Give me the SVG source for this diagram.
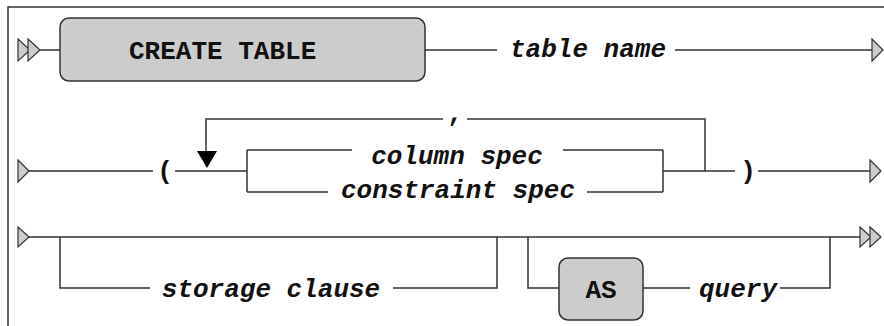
<svg xmlns="http://www.w3.org/2000/svg" width="884" height="326" viewBox="0 0 884 326">
<style>
.ln{fill:none;stroke:#333;stroke-width:1.5}
.ar{fill:#ccc;stroke:#333;stroke-width:1.2;stroke-linejoin:miter}
.kw{fill:#ccc;stroke:#333;stroke-width:1.5}
.t{font-family:"Courier New","Nimbus Mono PS","FreeMono","Liberation Mono",monospace;font-size:26px;font-weight:bold;fill:#111}
.i{font-style:italic}
.m{text-anchor:middle}
</style>
<rect width="884" height="326" fill="#fff"/>
<path class="ln" d="M8,326 V7 H884"/>
<g id="connectors">
<path class="ln" d="M39,50 H60 M425,50 H497 M675,50 H872"/>
<path class="ln" d="M29,171 H153 M175,171 H247 M247,150 V192 M247,150 H352 M563,150 H663 M247,192 H328 M587,192 H663 M663,150 V192 M663,171 H735 M758,171 H870"/>
<path class="ln" d="M705,171 V119 H467 M443,119 H206 V152"/>
<path d="M197,151 L217,151 L207,168 Z" fill="#000"/>
<path class="ln" d="M29,237 H860 M60,237 V288 H150 M393,288 H497 V237 M528,237 V288 H559 M643,288 H690 M780,288 H830 V237"/>
</g>
<g id="start1"><path class="ar" d="M18,39 L30,50 L18,61 Z"/><path class="ar" d="M28,39 L40,50 L28,61 Z"/></g>
<g id="end1"><path class="ar" d="M872,39 L883,50 L872,61 Z"/></g>
<g id="start2"><path class="ar" d="M18,160 L29,171 L18,182 Z"/></g>
<g id="end2"><path class="ar" d="M870,160 L881,171 L870,182 Z"/></g>
<g id="start3"><path class="ar" d="M18,227 L29,237 L18,247 Z"/></g>
<g id="end3"><path class="ar" d="M860,227 L871,237 L860,247 Z"/><path class="ar" d="M870,227 L881,237 L870,247 Z"/></g>
<g id="create-table"><rect class="kw" x="60" y="18" width="365" height="63" rx="9"/><text class="t" x="129" y="59">CREATE TABLE</text></g>
<g id="table-name"><text class="t i m" x="588" y="57">table name</text></g>
<g id="lparen"><text class="t m" x="165" y="179">(</text></g>
<g id="comma"><text class="t m" x="455" y="121">,</text></g>
<g id="column-spec"><text class="t i m" x="457" y="164">column spec</text></g>
<g id="constraint-spec"><text class="t i m" x="458" y="198">constraint spec</text></g>
<g id="rparen"><text class="t m" x="748" y="179">)</text></g>
<g id="storage-clause"><text class="t i m" x="271" y="297">storage clause</text></g>
<g id="as"><rect class="kw" x="559" y="258" width="84" height="62" rx="9"/><text class="t m" x="601" y="298">AS</text></g>
<g id="query"><text class="t i m" x="738" y="297">query</text></g>
</svg>
